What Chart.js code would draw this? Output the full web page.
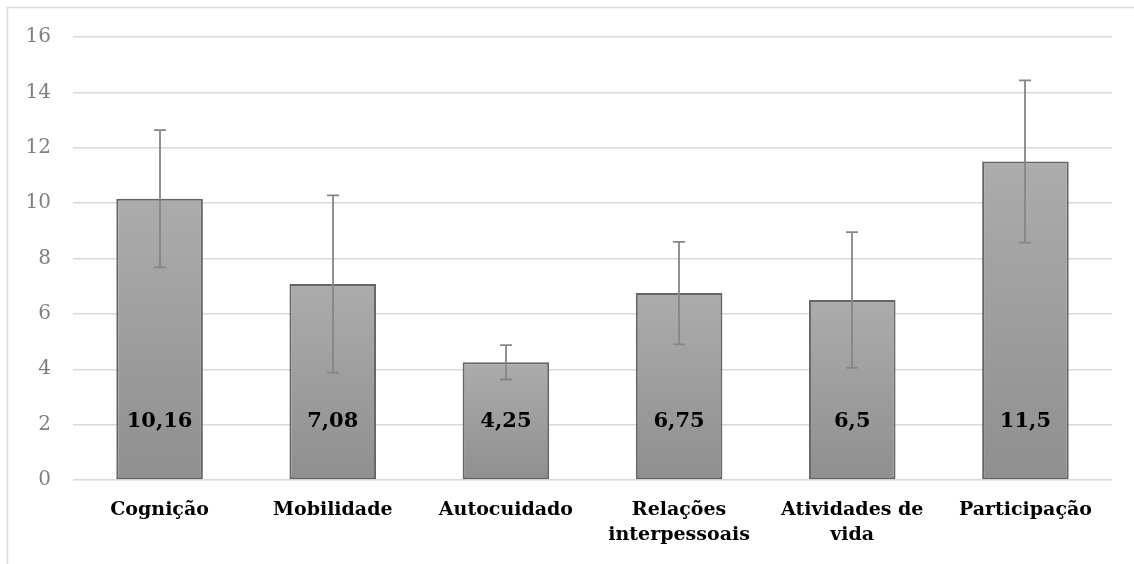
<!DOCTYPE html>
<html>
<head>
<meta charset="utf-8">
<script src="https://cdn.jsdelivr.net/npm/chart.js@4/dist/chart.umd.min.js"></script>
<style>
html,body{margin:0;padding:0;background:#fff;}
#wrap{width:1134px;height:564px;position:relative;}
</style>
</head>
<body>
<div id="wrap"><canvas id="c" width="1134" height="564"></canvas></div>
<script>
const categories = ["Cognição", "Mobilidade", "Autocuidado", ["Relações", "interpessoais"], ["Atividades de", "vida"], "Participação"];
const means = [10.16, 7.08, 4.25, 6.75, 6.5, 11.5];
const errors = [2.48, 3.2, 0.62, 1.85, 2.45, 2.93];
const valueLabels = ["10,16", "7,08", "4,25", "6,75", "6,5", "11,5"];
const yTicks = [0, 2, 4, 6, 8, 10, 12, 14, 16];

const SERIF = "'DejaVu Serif', 'Liberation Serif', serif";

const frame = {
  id: 'frame',
  beforeDraw(chart) {
    const ctx = chart.ctx;
    ctx.save();
    ctx.strokeStyle = '#d9d9d9';
    ctx.lineWidth = 1.5;
    ctx.strokeRect(7.5, 7.5, 1130, 620);
    ctx.restore();
  }
};

const errorBars = {
  id: 'errorBars',
  afterDatasetsDraw(chart) {
    const ctx = chart.ctx;
    const meta = chart.getDatasetMeta(0);
    const y = chart.scales.y;
    ctx.save();
    ctx.strokeStyle = '#868686';
    ctx.lineWidth = 1.8;
    meta.data.forEach((bar, i) => {
      const x = Math.round(bar.x);
      const top = y.getPixelForValue(means[i] + errors[i]);
      const bot = y.getPixelForValue(means[i] - errors[i]);
      ctx.beginPath();
      ctx.moveTo(x, top); ctx.lineTo(x, bot);
      ctx.moveTo(x - 6, top); ctx.lineTo(x + 6, top);
      ctx.moveTo(x - 6, bot); ctx.lineTo(x + 6, bot);
      ctx.stroke();
    });
    ctx.fillStyle = '#000';
    ctx.font = "bold 21px " + SERIF;
    ctx.textAlign = 'center';
    ctx.textBaseline = 'middle';
    meta.data.forEach((bar, i) => {
      ctx.fillText(valueLabels[i], bar.x, y.getPixelForValue(2.1));
    });
    ctx.restore();
  }
};

new Chart(document.getElementById('c'), {
  type: 'bar',
  data: {
    labels: categories,
    datasets: [{
      data: means,
      backgroundColor(context) {
        const chart = context.chart;
        const ys = chart.scales.y;
        if (!chart.chartArea || !ys || context.parsed == null) return '#a0a0a0';
        const t = ys.getPixelForValue(context.parsed.y);
        const b = ys.getPixelForValue(0);
        if (!isFinite(t) || !isFinite(b) || t === b) return '#a0a0a0';
        const g = chart.ctx.createLinearGradient(0, t, 0, b);
        g.addColorStop(0, '#acacac');
        g.addColorStop(1, '#8f8f8f');
        return g;
      },
      borderColor: '#656565',
      borderWidth: 2,
      borderSkipped: false,
      barPercentage: 0.5,
      categoryPercentage: 1.0
    }]
  },
  options: {
    responsive: false,
    animation: false,
    devicePixelRatio: 1,
    layout: { padding: { left: 0, right: 22, top: 37, bottom: 0 } },
    plugins: { legend: { display: false }, tooltip: { enabled: false } },
    scales: {
      x: {
        grid: { display: false, drawTicks: false },
        border: { display: false },
        ticks: {
          color: '#000',
          font: { family: SERIF, size: 19, weight: 'bold', lineHeight: 1.3 },
          padding: 18,
          maxRotation: 0,
          autoSkip: false
        },
        afterFit(scale) { scale.height = 84; }
      },
      y: {
        min: 0, max: 16,
        afterBuildTicks(scale) { scale.ticks = yTicks.map(v => ({ value: v })); },
        grid: { color: '#d9d9d9', lineWidth: 1.5, drawTicks: false },
        border: { display: false },
        ticks: {
          color: '#808080',
          font: { family: SERIF, size: 20 },
          padding: 22
        },
        afterFit(scale) { scale.width = 73; }
      }
    }
  },
  plugins: [frame, errorBars]
});
</script>
</body>
</html>
